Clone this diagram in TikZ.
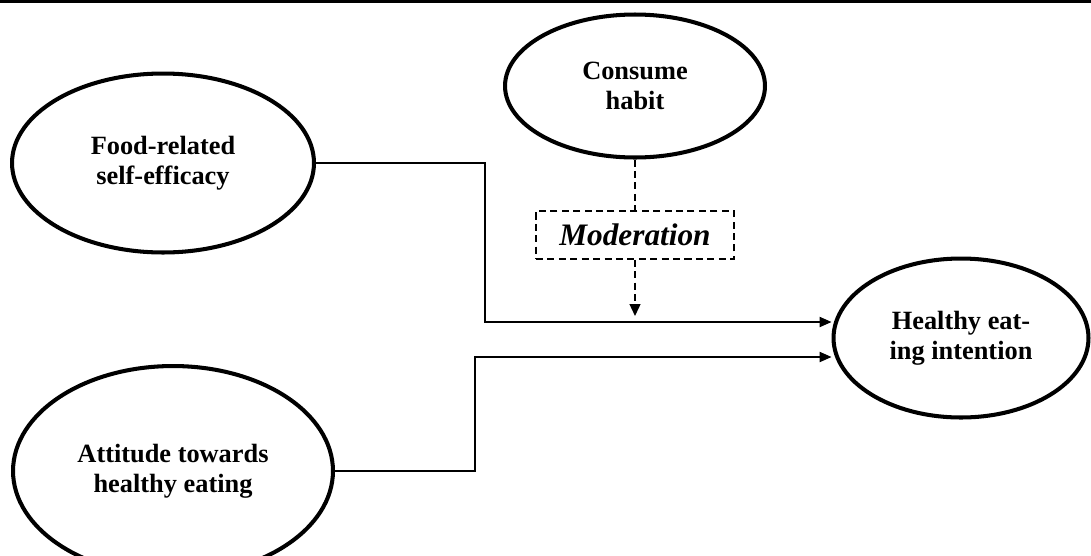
\documentclass[tikz,border=0pt]{standalone}
\usepackage{fontspec}
\setmainfont{Liberation Serif}
\usetikzlibrary{shapes.geometric, arrows.meta, positioning, calc}
\tikzset{
	construct/.style={ellipse, draw=black, line width=2.3pt, inner sep=0pt, align=center, font=\fontsize{15}{17}\selectfont\bfseries},
	modbox/.style   ={rectangle, draw=black, dash pattern=on 4pt off 2.5pt, line width=0.9pt, minimum width=3.96cm, minimum height=0.96cm, inner sep=0pt, font=\fontsize{17.8}{20}\selectfont\bfseries\itshape},
	path/.style     ={-{Triangle[length=6.8pt, width=5.8pt]}, line width=0.85pt},
	modpath/.style  ={-{Triangle[length=6.8pt, width=6.2pt]}, line width=0.85pt, dash pattern=on 4pt off 2.5pt},
	frame/.style    ={line width=1.7pt},
}
\begin{document}
\begin{tikzpicture}[x=0.02cm, y=-0.02cm]
	\useasboundingbox (0,0) rectangle (1091,555);
	\clip (0,0) rectangle (1091,555);
	\draw[frame] (0,1.5) -- (1091,1.5);
	% constructs
	\node[construct, minimum width=6.04cm, minimum height=3.58cm] (food) at (163,163) {Food-related\\self-efficacy};
	\node[construct, minimum width=6.4cm, minimum height=4.2cm] (attitude) at (173,471) {Attitude towards\\healthy eating};
	\node[construct, minimum width=5.2cm, minimum height=2.86cm] (habit) at (635,86) {Consume\\habit};
	\node[construct, minimum width=5.1cm, minimum height=3.18cm] (intention) at (961,338) {Healthy eat-\\ing intention};
	\node[modbox] (mod) at (635,235) {Moderation};
	% knees and tips
	\coordinate (kneeA) at (485,322);
	\coordinate (kneeB) at (475,357);
	\coordinate (modtip) at (635,316);
	% paths
	\draw[path] (food.east) -| (kneeA) -- (kneeA -| intention.west);
	\draw[path] (attitude.east) -| (kneeB) -- (kneeB -| intention.west);
	\draw[line width=0.85pt, dash pattern=on 4pt off 2.5pt] (habit.south) -- (mod.north);
	\draw[modpath] (mod.south) -- (modtip);
\end{tikzpicture}
\end{document}
